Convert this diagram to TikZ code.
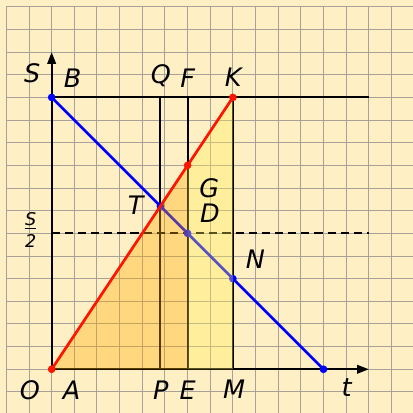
\documentclass[tikz,border=0pt]{standalone}
\usepackage{fontspec}
\setmainfont{DejaVu Sans}
\usetikzlibrary{arrows.meta}
\definecolor{bg}{RGB}{255,239,196}
\definecolor{gridc}{RGB}{110,110,125}
\definecolor{orfill}{RGB}{253,171,0}
\definecolor{yefill}{RGB}{255,237,83}
\definecolor{myblue}{RGB}{0,0,255}
\definecolor{myred}{RGB}{255,20,0}
\begin{document}
\begin{tikzpicture}[x=1cm,y=1cm,
  lbl/.style={font=\fontsize{32}{34}\selectfont\itshape, inner sep=0pt},
  fraclbl/.style={font=\fontsize{22}{24}\selectfont\itshape, inner sep=0pt},
  blk/.style={line width=2.4pt, black},
  gridline/.style={line width=1.2pt, gridc, opacity=0.6},
  bluel/.style={line width=3.4pt, myblue},
  redl/.style={line width=3.4pt, myred},
  bdot/.style={circle, fill=myblue, inner sep=0pt, minimum size=0.34cm},
  rdot/.style={circle, fill=myred, inner sep=0pt, minimum size=0.34cm},
  axisarrow/.style={-{Triangle[length=0.52cm,width=0.38cm]}, line width=2.4pt}
]
\fill[bg] (-2.28,-1.93) rectangle (15.95,16.30);
\useasboundingbox (-2.28,-1.93) rectangle (15.95,16.30);
\draw[gridline] (-2,-1.93) grid (15.95,16);

% coordinates
\coordinate (O) at (0,0);
\coordinate (Yend) at (0,14);
\coordinate (Xend) at (14,0);
\coordinate (B) at (0,12);
\coordinate (K) at (8,12);
\coordinate (Hend) at (14,12);
\coordinate (T) at (4.8,7.2);
\coordinate (Qt) at (4.8,12);
\coordinate (Pb) at (4.8,0);
\coordinate (Ft) at (6,12);
\coordinate (Eb) at (6,0);
\coordinate (R9) at (6,9);
\coordinate (D) at (6,6);
\coordinate (N) at (8,4);
\coordinate (Mb) at (8,0);
\coordinate (Z) at (12,0);
\coordinate (H0) at (0,6);
\coordinate (H1) at (14,6);
\coordinate (Bar0) at (-1.19,6.22);
\coordinate (Bar1) at (-0.68,6.22);

% black lines
\draw[blk] (B) -- (Hend);
\draw[blk] (Pb) -- (Qt);
\draw[blk] (Eb) -- (Ft);
\draw[blk] (Mb) -- (K);
\draw[blk, dashed, dash pattern=on 0.36cm off 0.22cm] (H0) -- (H1);
\draw[axisarrow] (O) -- (Yend);
\draw[axisarrow] (O) -- (Xend);

% blue line
\draw[bluel] (B) -- (Z);
\node[bdot] (dB) at (B) {};
\node[bdot] (dT) at (T) {};
\node[bdot] (dD) at (D) {};
\node[bdot] (dN) at (N) {};
\node[bdot] (dZ) at (Z) {};

% fills
\fill[orfill, fill opacity=0.35] (O) -- (R9) -- (Eb) -- cycle;
\fill[yefill, fill opacity=0.35] (Eb) -- (R9) -- (K) -- (Mb) -- cycle;

% red line
\draw[redl] (O) -- (K);
\node[rdot] (dO) at (O) {};
\node[rdot] (dR) at (R9) {};
\node[rdot] (dK) at (K) {};

% labels
\node[lbl] (lS) at (-0.86,13.05) {S};
\node[lbl] (lB) at (0.93,12.83) {B};
\node[lbl] (lQ) at (4.82,12.98) {Q};
\node[lbl] (lF) at (6.0,12.83) {F};
\node[lbl] (lK) at (8.02,12.9) {K};
\node[lbl] (lT) at (3.71,7.25) {T};
\node[lbl] (lG) at (6.96,7.99) {G};
\node[lbl] (lD) at (6.99,6.89) {D};
\node[lbl] (lN) at (8.99,4.88) {N};
\node[lbl] (lO) at (-0.96,-0.93) {O};
\node[lbl] (lA) at (0.88,-0.93) {A};
\node[lbl] (lP) at (4.82,-0.93) {P};
\node[lbl] (lE) at (6.0,-0.93) {E};
\node[lbl] (lM) at (8.05,-0.90) {M};
\node[lbl] (lt) at (13.02,-0.82) {t};
\node[fraclbl] (lhS) at (-0.93,6.62) {S};
\node[fraclbl] (lh2) at (-0.93,5.65) {2};
\draw[line width=1.3pt] (Bar0) -- (Bar1);
\end{tikzpicture}
\end{document}
